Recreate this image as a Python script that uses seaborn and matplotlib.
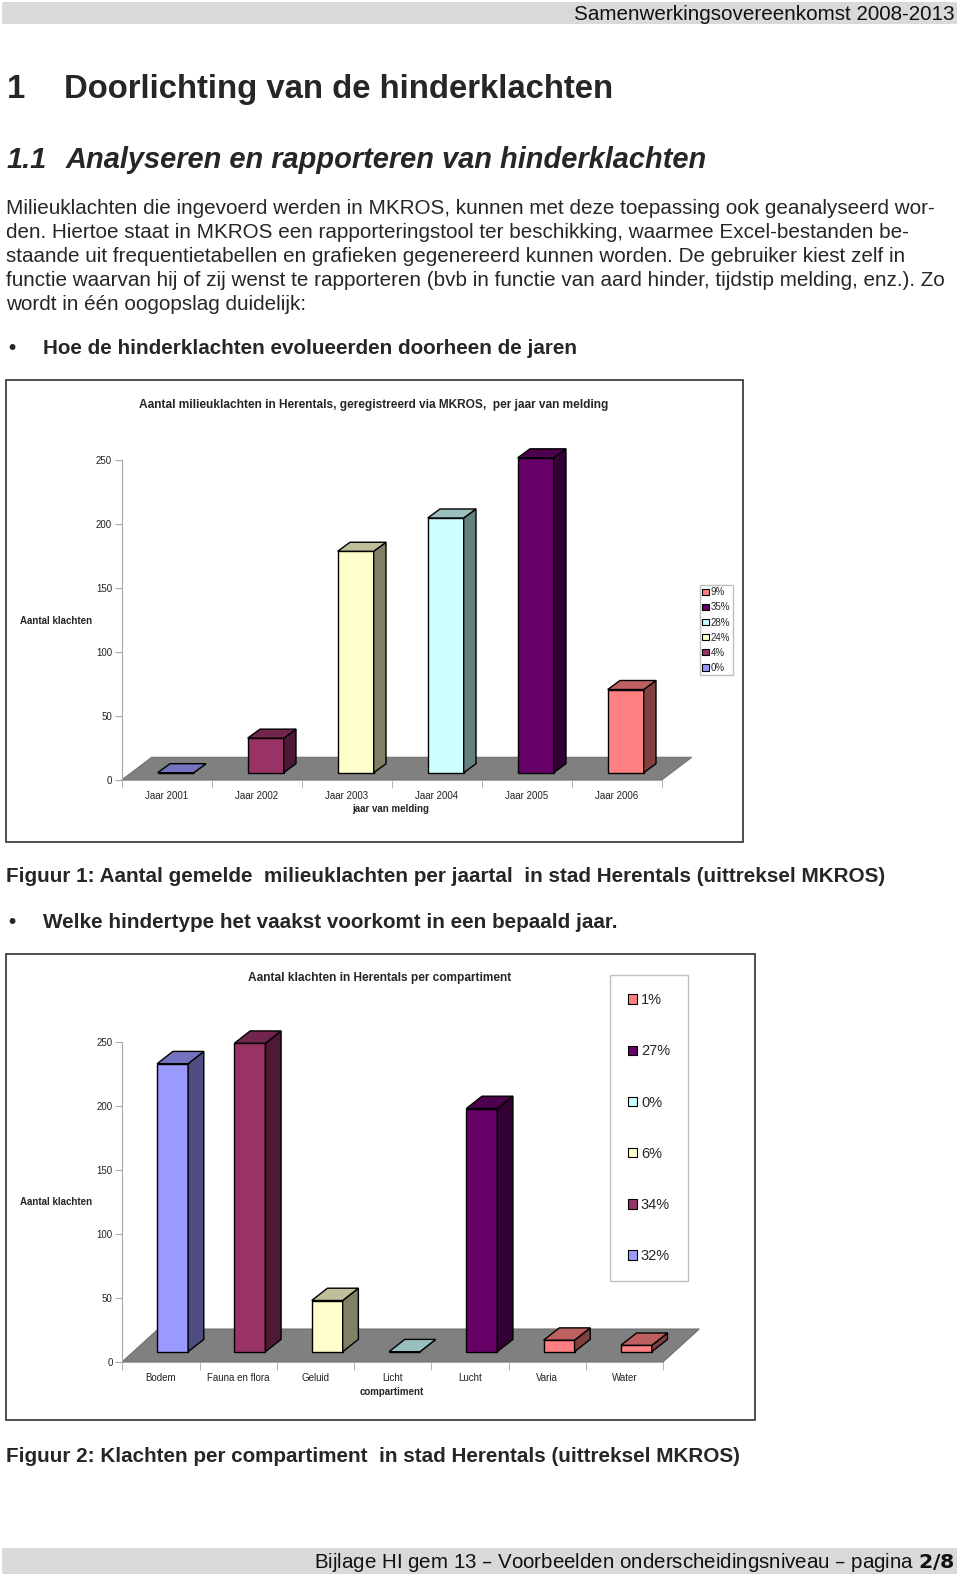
import seaborn as sns
import matplotlib.pyplot as plt
from matplotlib.patches import Polygon, Rectangle, Patch
from matplotlib.transforms import ScaledTranslation
from matplotlib.ticker import FixedLocator

# data
years = ['Jaar 2001', 'Jaar 2002', 'Jaar 2003', 'Jaar 2004', 'Jaar 2005', 'Jaar 2006']
klachten_jaar = [0, 27, 173, 199, 246, 65]
legend_jaar = ['9%', '35%', '28%', '24%', '4%', '0%']

compartimenten = ['Bodem', 'Fauna en flora', 'Geluid', 'Licht', 'Lucht', 'Varia', 'Water']
klachten_comp = [225, 241, 40, 0, 190, 9, 5]
legend_comp = ['1%', '27%', '0%', '6%', '34%', '32%']

BLUE, MAROON, YELLOW, CYAN, PURPLE, SALMON = '#9999FF', '#993366', '#FFFFCC', '#CCFFFF', '#660066', '#FF8080'
colors_jaar = [BLUE, MAROON, YELLOW, CYAN, PURPLE, SALMON]
colors_comp = [BLUE, MAROON, YELLOW, CYAN, PURPLE, SALMON, SALMON]
legend_colors = [SALMON, PURPLE, CYAN, YELLOW, MAROON, BLUE]

W, H = 960, 1575
sns.set_style('white')
plt.rcParams['font.family'] = ['Liberation Sans', 'DejaVu Sans']

fig = plt.figure(figsize=(W / 100, H / 100), dpi=100)


def fx(x):
    return x / W


def fy(y):
    return 1 - y / H


def shade(c, f):
    r, g, b = [int(c[i:i + 2], 16) / 255 for i in (1, 3, 5)]
    return (r * f, g * f, b * f)


def bar3d(ax, cats, vals, colors, box, shift, depth, floor):
    # box = (left, top, right, bottom) in page pixels
    l, t, r, b = box
    ax.set_position([fx(l), fy(b), (r - l) / W, (b - t) / H])
    df = {'cat': cats, 'val': vals}
    sns.barplot(x='cat', y='val', hue='cat', data=df, palette=colors, width=0.4,
                saturation=1, edgecolor='black', linewidth=1, legend=False, ax=ax, zorder=3)
    n = len(cats)
    ax.set_xlim(-0.5, n - 0.5)
    ax.set_ylim(0, 250)
    ppx = (r - l) / n
    ppy = (b - t) / 250
    off = ax.transData + ScaledTranslation(shift[0] / 100, shift[1] / 100, fig.dpi_scale_trans)
    ddx, ddy = depth[0] / ppx, depth[1] / ppy
    for p, c in zip(list(ax.patches), colors):
        x0, w, h = p.get_x(), p.get_width(), p.get_height()
        x1 = x0 + w
        p.set_transform(off)
        p.set_clip_on(False)
        side = Polygon([(x1, 0), (x1 + ddx, ddy), (x1 + ddx, h + ddy), (x1, h)], closed=True,
                       facecolor=shade(c, 0.5), edgecolor='black', lw=1, transform=off,
                       clip_on=False, zorder=3)
        top = Polygon([(x0, h), (x1, h), (x1 + ddx, h + ddy), (x0 + ddx, h + ddy)], closed=True,
                      facecolor=shade(c, 0.75), edgecolor='black', lw=1, transform=off,
                      clip_on=False, zorder=3)
        ax.add_patch(side)
        ax.add_patch(top)
    fdx, fdy = floor[0] / ppx, floor[1] / ppy
    ax.add_patch(Polygon([(-0.5, 0), (n - 0.5, 0), (n - 0.5 + fdx, fdy), (-0.5 + fdx, fdy)],
                         closed=True, facecolor='#808080', edgecolor='#707070', lw=0.8,
                         clip_on=False, zorder=1))
    for s in ['top', 'right']:
        ax.spines[s].set_visible(False)
    ax.spines['left'].set_color('#A8A8A8')
    ax.spines['bottom'].set_color('#A8A8A8')
    ax.set_yticks([0, 50, 100, 150, 200, 250])
    ax.tick_params(axis='y', direction='out', length=5, color='#A8A8A8', labelsize=7,
                   labelcolor='#222222', pad=2, left=True)
    ax.tick_params(axis='x', which='major', length=0, labelsize=7, labelcolor='#222222', pad=8)
    ax.xaxis.set_minor_locator(FixedLocator([i - 0.5 for i in range(n + 1)]))
    ax.tick_params(axis='x', which='minor', direction='out', length=6, color='#A8A8A8', bottom=True)
    ax.set_xlabel('')
    ax.set_ylabel('')
    ax.patch.set_alpha(0)


# page header and footer
fig.add_artist(Rectangle((fx(2), fy(24)), fx(957) - fx(2), fy(2) - fy(24), transform=fig.transFigure,
                         facecolor='#D9D9D9', edgecolor='none'))
fig.text(fx(954), fy(14), 'Samenwerkingsovereenkomst 2008-2013', ha='right', va='center',
         fontsize=14.9, color='#111111')
fig.add_artist(Rectangle((fx(2), fy(1574)), fx(957) - fx(2), fy(1548) - fy(1574), transform=fig.transFigure,
                         facecolor='#D9D9D9', edgecolor='none'))
fig.text(fx(954), fy(1563), r'Bijlage HI gem 13 – Voorbeelden onderscheidingsniveau – pagina $\mathbf{2/8}$',
         ha='right', va='center', fontsize=14.75, color='#111111')

# headings and body text
fig.text(fx(7), fy(89.5), '1', ha='left', va='center', fontsize=23.7, weight='bold')
fig.text(fx(64), fy(89.5), 'Doorlichting van de hinderklachten', ha='left', va='center', fontsize=23.7,
         weight='bold')
fig.text(fx(7), fy(160), '1.1', ha='left', va='center', fontsize=20.9, weight='bold', style='italic')
fig.text(fx(66), fy(160), 'Analyseren en rapporteren van hinderklachten', ha='left', va='center',
         fontsize=20.9, weight='bold', style='italic')
body = [
    'Milieuklachten die ingevoerd werden in MKROS, kunnen met deze toepassing ook geanalyseerd wor-',
    'den. Hiertoe staat in MKROS een rapporteringstool ter beschikking, waarmee Excel-bestanden be-',
    'staande uit frequentietabellen en grafieken gegenereerd kunnen worden. De gebruiker kiest zelf in',
    'functie waarvan hij of zij wenst te rapporteren (bvb in functie van aard hinder, tijdstip melding, enz.). Zo',
    'wordt in één oogopslag duidelijk:',
]
for i, line in enumerate(body):
    fig.text(fx(6), fy(208 + 24.1 * i), line, ha='left', va='center', fontsize=14.85)
fig.text(fx(8), fy(349), '•', ha='left', va='center', fontsize=14.85, weight='bold')
fig.text(fx(43), fy(349), 'Hoe de hinderklachten evolueerden doorheen de jaren', ha='left', va='center',
         fontsize=14.85, weight='bold')
fig.text(fx(6), fy(877), 'Figuur 1: Aantal gemelde  milieuklachten per jaartal  in stad Herentals (uittreksel MKROS)',
         ha='left', va='center', fontsize=14.85, weight='bold')
fig.text(fx(8), fy(923), '•', ha='left', va='center', fontsize=14.85, weight='bold')
fig.text(fx(43), fy(923), 'Welke hindertype het vaakst voorkomt in een bepaald jaar.', ha='left', va='center',
         fontsize=14.85, weight='bold')
fig.text(fx(6), fy(1457), 'Figuur 2: Klachten per compartiment  in stad Herentals (uittreksel MKROS)',
         ha='left', va='center', fontsize=14.85, weight='bold')

# chart frames
for (l, t, r, b) in [(6, 380, 743, 842), (6, 954, 755, 1420)]:
    fig.add_artist(Rectangle((fx(l), fy(b)), fx(r) - fx(l), fy(t) - fy(b), transform=fig.transFigure,
                             facecolor='none', edgecolor='#404040', lw=1.3))

# chart 1: per jaar
ax1 = fig.add_axes([0, 0, 1, 1])
bar3d(ax1, years, klachten_jaar, colors_jaar, (121.7, 460, 661.7, 780), (9, 7.3), (12.3, 9), (30, 22.7))
fig.text(fx(374), fy(405), 'Aantal milieuklachten in Herentals, geregistreerd via MKROS,  per jaar van melding',
         ha='center', va='center', fontsize=8.55, weight='bold')
fig.text(fx(20), fy(621), 'Aantal klachten', ha='left', va='center', fontsize=7, weight='bold')
fig.text(fx(391), fy(809), 'jaar van melding', ha='center', va='center', fontsize=7, weight='bold')
h1 = [Patch(facecolor=c, edgecolor='black', lw=0.8) for c in legend_colors]
ax1.legend(h1, legend_jaar, loc='upper left', bbox_to_anchor=(fx(700), fy(585)), bbox_transform=fig.transFigure,
           fontsize=7, handlelength=0.65, handleheight=0.65, handletextpad=0.2, labelspacing=0.52,
           borderpad=0.25, borderaxespad=0, frameon=True, fancybox=False, edgecolor='#B0B0B0')

# chart 2: per compartiment
ax2 = fig.add_axes([0, 0, 1, 1])
bar3d(ax2, compartimenten, klachten_comp, colors_comp, (122.3, 1041.7, 663.3, 1361.7), (11.7, 10), (15.7, 12.3),
      (36, 32.7))
fig.text(fx(380), fy(978), 'Aantal klachten in Herentals per compartiment', ha='center', va='center',
         fontsize=8.6, weight='bold')
fig.text(fx(20), fy(1202), 'Aantal klachten', ha='left', va='center', fontsize=7, weight='bold')
fig.text(fx(392), fy(1392), 'compartiment', ha='center', va='center', fontsize=7, weight='bold')
h2 = [Patch(facecolor=c, edgecolor='black', lw=0.8) for c in legend_colors]
ax2.legend(h2, legend_comp, loc='upper left', bbox_to_anchor=(fx(610), fy(975)), bbox_transform=fig.transFigure,
           fontsize=10.5, handlelength=0.62, handleheight=0.62, handletextpad=0.25, labelspacing=2.55,
           borderpad=1.25, borderaxespad=0, frameon=True, fancybox=False, edgecolor='#B0B0B0')

fig.savefig('out.png', dpi=100)
